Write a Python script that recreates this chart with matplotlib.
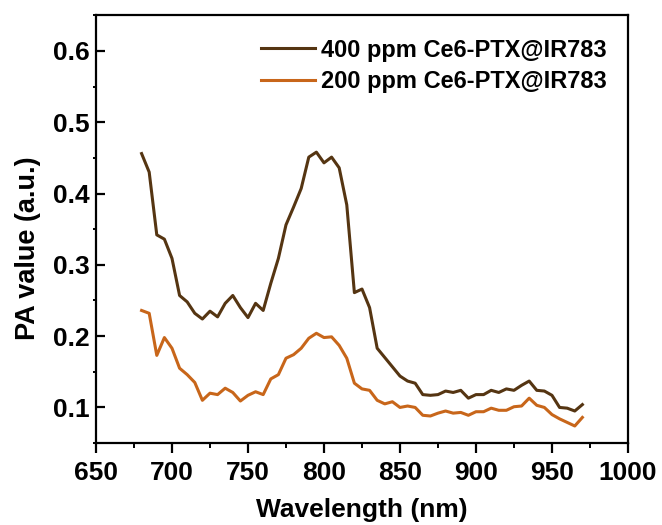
import matplotlib
matplotlib.use("Agg")
import matplotlib.pyplot as plt
from matplotlib.ticker import MultipleLocator

wavelength = list(range(680, 975, 5))
pa_400 = [0.456, 0.430, 0.342, 0.336, 0.309, 0.257, 0.248, 0.232, 0.224, 0.235,
          0.227, 0.246, 0.257, 0.240, 0.226, 0.246, 0.236, 0.274, 0.309, 0.356,
          0.381, 0.407, 0.451, 0.458, 0.443, 0.451, 0.436, 0.384, 0.261, 0.266,
          0.240, 0.183, 0.170, 0.157, 0.144, 0.137, 0.134, 0.118, 0.117, 0.118,
          0.123, 0.121, 0.124, 0.113, 0.118, 0.118, 0.124, 0.121, 0.126, 0.124,
          0.131, 0.137, 0.124, 0.123, 0.117, 0.100, 0.099, 0.095, 0.104]
pa_200 = [0.236, 0.232, 0.173, 0.198, 0.183, 0.155, 0.146, 0.135, 0.110, 0.120,
          0.118, 0.127, 0.121, 0.109, 0.117, 0.122, 0.118, 0.140, 0.146, 0.169,
          0.174, 0.183, 0.197, 0.204, 0.198, 0.199, 0.187, 0.169, 0.134, 0.126,
          0.124, 0.110, 0.105, 0.108, 0.100, 0.102, 0.100, 0.089, 0.088, 0.092,
          0.095, 0.092, 0.093, 0.089, 0.094, 0.094, 0.099, 0.096, 0.096, 0.101,
          0.102, 0.113, 0.103, 0.100, 0.090, 0.084, 0.079, 0.074, 0.086]
labels = ["400 ppm Ce6-PTX@IR783", "200 ppm Ce6-PTX@IR783"]
colors = ["#553512", "#c8661a"]
yticks = [0.1, 0.2, 0.3, 0.4, 0.5, 0.6]

plt.rcParams['font.family'] = ['Liberation Sans', 'DejaVu Sans']
plt.rcParams['font.weight'] = 'bold'

fig = plt.figure(figsize=(6.62, 5.25), dpi=100)
ax = fig.add_axes([0.1450, 0.156, 0.8036, 0.815])

ax.plot(wavelength, pa_400, color=colors[0], lw=2.2, label=labels[0])
ax.plot(wavelength, pa_200, color=colors[1], lw=2.2, label=labels[1])

ax.set_xlim(650, 1000)
ax.set_ylim(0.05, 0.65)
ax.xaxis.set_major_locator(MultipleLocator(50))
ax.xaxis.set_minor_locator(MultipleLocator(25))
ax.yaxis.set_minor_locator(MultipleLocator(0.05))
ax.set_yticks(yticks)
ax.set_yticklabels([f"{v:.1f}" for v in yticks])

for s in ax.spines.values():
    s.set_linewidth(1.6)
ax.tick_params(axis='x', which='major', direction='out', length=7, width=1.6,
               labelsize=19, pad=6)
ax.tick_params(axis='x', which='minor', direction='out', length=3.5, width=1.4)
ax.tick_params(axis='y', which='major', direction='in', length=6.5, width=1.6,
               labelsize=19, pad=4.5)
ax.tick_params(axis='y', which='minor', direction='out', length=2.5, width=1.4)
for lab in ax.get_xticklabels() + ax.get_yticklabels():
    lab.set_fontweight('bold')

ax.set_xlabel("Wavelength (nm)", fontsize=19, fontweight='bold', labelpad=9)
ax.set_ylabel("PA value (a.u.)", fontsize=19.5, fontweight='bold', va='center')
ax.yaxis.set_label_coords(-0.127, 0.456)

leg = ax.legend(loc='upper right', frameon=False, handlelength=2.3,
                handletextpad=0.25, labelspacing=0.37, borderaxespad=0.5,
                bbox_to_anchor=(1.0, 0.995), prop={'weight': 'bold', 'size': 17})

fig.savefig("out.png", dpi=100)
